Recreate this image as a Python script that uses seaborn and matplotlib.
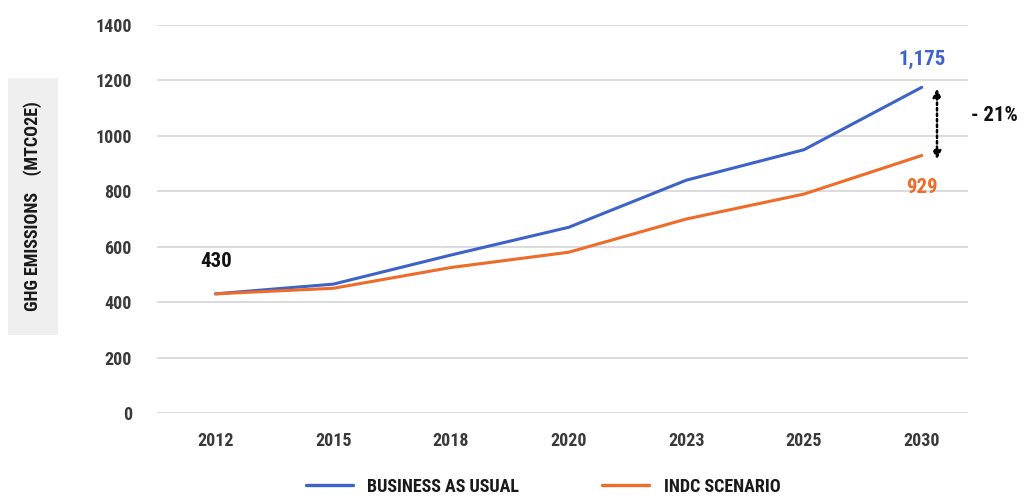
import matplotlib
matplotlib.use("Agg")
import matplotlib.pyplot as plt
from matplotlib import font_manager
from matplotlib.patches import FancyBboxPatch
import seaborn as sns
import pandas as pd

years = ["2012", "2015", "2018", "2020", "2023", "2025", "2030"]
business_as_usual = [430, 465, 570, 670, 840, 950, 1175]
indc_scenario = [430, 450, 525, 580, 700, 790, 929]
series_names = ["BUSINESS AS USUAL", "INDC SCENARIO"]
y_ticks = [0, 200, 400, 600, 800, 1000, 1200, 1400]

BLUE = "#3d63c9"
ORANGE = "#ee6b2a"

sns.set_theme(style="white")
available = {f.name for f in font_manager.fontManager.ttflist}
family = [f for f in ["Liberation Sans Narrow", "Roboto Condensed", "Open Sans Condensed", "DejaVu Sans"] if f in available]
plt.rcParams["font.family"] = family

df = pd.DataFrame({
    "year": years * 2,
    "value": business_as_usual + indc_scenario,
    "series": [series_names[0]] * len(years) + [series_names[1]] * len(years),
})

fig = plt.figure(figsize=(10.25, 4.99), dpi=100)
ax = fig.add_axes([0.153, 0.1723, 0.791, 0.7777])

sns.lineplot(data=df, x="year", y="value", hue="series", sort=False,
             palette=[BLUE, ORANGE], linewidth=2.2, ax=ax, legend=False)

ax.set_ylim(0, 1400)
ax.set_xlim(-0.5, 6.39)
ax.set_yticks(y_ticks)
ax.set_yticklabels([str(v) for v in y_ticks])
for s in ax.spines.values():
    s.set_visible(False)
ax.yaxis.grid(True, color="#dcdcdc", linewidth=1.4)
ax.set_axisbelow(True)
ax.tick_params(axis="y", length=0, pad=18, labelsize=13, labelcolor="#3a3a3a")
ax.tick_params(axis="x", length=0, pad=14, labelsize=13, labelcolor="#3a3a3a")
for lbl in ax.get_xticklabels() + ax.get_yticklabels():
    lbl.set_fontweight("bold")
ax.set_xlabel("")
ax.set_ylabel("")

# value callouts
ax.text(0, business_as_usual[0] + 118, f"{business_as_usual[0]}", ha="center", va="center",
        fontsize=15, fontweight="bold", color="#111111")
ax.text(6, business_as_usual[-1] + 100, f"{business_as_usual[-1]:,}", ha="center", va="center",
        fontsize=15, fontweight="bold", color=BLUE)
ax.text(6, indc_scenario[-1] - 115, f"{indc_scenario[-1]}", ha="center", va="center",
        fontsize=15, fontweight="bold", color=ORANGE)

# reduction arrow
ax.annotate("", xy=(6.13, 915), xytext=(6.13, 1170), xycoords="data",
            arrowprops=dict(arrowstyle="<|-|>", linestyle=(0, (1, 1.2)), color="black",
                            linewidth=1.8, mutation_scale=12, shrinkA=0, shrinkB=0),
            annotation_clip=False)
pct = round((business_as_usual[-1] - indc_scenario[-1]) / business_as_usual[-1] * 100)
ax.text(6.42, (business_as_usual[-1] + indc_scenario[-1]) / 2 + 20, f"- {pct}%",
        ha="left", va="center", fontsize=15, fontweight="bold", color="#111111",
        clip_on=False)

# y-axis title in a grey box
fig.patches.append(FancyBboxPatch((8 / 1025, 1 - 335 / 499), 50 / 1025, 257 / 499,
                                  boxstyle="square,pad=0", transform=fig.transFigure,
                                  facecolor="#efefef", edgecolor="none"))
fig.text(33 / 1025, 1 - 206 / 499, "GHG EMISSIONS    (MTCO2E)", rotation=90,
         ha="center", va="center", fontsize=13, fontweight="bold", color="#1a1a1a")

# legend
handles = [plt.Line2D([], [], color=BLUE, linewidth=2.4),
           plt.Line2D([], [], color=ORANGE, linewidth=2.4)]
leg = fig.legend(handles, series_names, loc="center", bbox_to_anchor=(0.53, 0.025),
                 ncol=2, frameon=False, handlelength=2.6, handletextpad=0.8,
                 columnspacing=4.6, prop={"weight": "bold", "size": 13})
for t in leg.get_texts():
    t.set_color("#1a1a1a")

fig.savefig("out.png", dpi=100, facecolor="white")
